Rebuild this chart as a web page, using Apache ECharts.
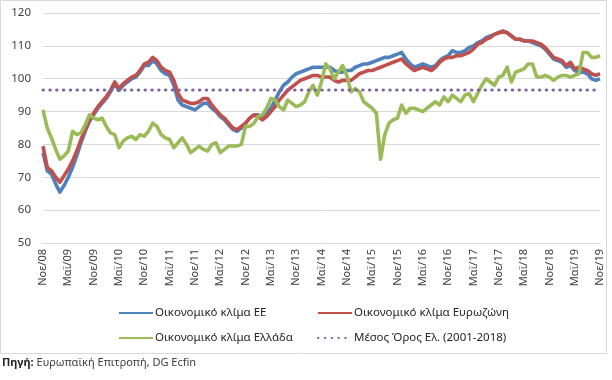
<!DOCTYPE html>
<html><head><meta charset="utf-8">
<script src="https://cdn.jsdelivr.net/npm/echarts@6/dist/echarts.min.js"></script>
<style>html,body{margin:0;padding:0;background:#fff}#c{width:612px;height:380px}</style>
</head><body><div id="c"></div>
<script>
// Categories: monthly, Nov 2008 - Nov 2019
var monthNames = ['Ιαν','Φεβ','Μαρ','Απρ','Μαϊ','Ιουν','Ιουλ','Αυγ','Σεπ','Οκτ','Νοε','Δεκ'];
var startYear = 2008, startMonth = 10, monthCount = 133;
var yTicks = [50, 60, 70, 80, 90, 100, 110, 120];

var seriesNames = ['Οικονομικό κλίμα ΕΕ', 'Οικονομικό κλίμα Ευρωζώνη', 'Οικονομικό κλίμα Ελλάδα', 'Μέσος Όρος Ελ. (2001-2018)'];

var euValues = [77.5,72,71,68,65.5,67.5,70,73,76.5,80.5,84,87,89,91,92.5,94,96,98.5,96.5,98,99,100,100.5,102,104,104,105.5,104.5,102.5,101.5,101,98,93.5,92,91.5,91,90.5,91.5,92.5,92.5,91,90,88.5,87.5,86,84.5,84,85,86.5,88,89,89,88.5,89.5,91,93.5,96,98,99,100.5,101.5,102,102.5,103,103.5,103.5,103.5,103.5,103.5,102.5,102,102,102.5,102.5,103.5,104,104.5,104.5,105,105.5,106,106.5,106.5,107,107.5,108,106,104.5,103.5,104,104.5,104,103.5,104,105.5,106.5,107,108.5,108,108,108.5,109.5,110,111,111.5,112.5,113,113.5,114,114.5,114,113,112,112,111.5,111.5,111,110.5,110,109,107.5,106,105.5,105,103.5,104,102.5,102,102,101.5,100,99.5,100];

var ezValues = [79.5,73,72,70,68.5,70.5,72.5,75,78,81.5,84.5,87.5,89.5,91.5,93,94.5,96.5,99,97,98.5,99.5,100.5,101,102.5,104.5,105,106.5,105.5,103.5,102.5,102,99.5,95.5,93.5,93,92.5,92.5,93,94,94,92,90.5,89,88,86.5,85,84.5,85.5,86.5,88,89,88.5,87.5,88.5,90,91.5,93.5,95,96.5,97.5,98.5,99.5,100,100.5,101,101,100.5,100.5,100.5,99.5,99,99.5,99.5,99.5,100.5,101.5,102,102.5,102.5,103,103.5,104,104.5,105,105.5,106,104.5,103.5,102.5,103,103.5,103,102.5,103.5,105,106,106.5,106.5,107,107,107.5,108,109,110.5,111,112,112.5,113.5,114,114.5,114,113,112,112,111.5,111.5,111.5,111,110.5,109.5,108,106.5,106,105.5,104,105,103,103.5,103,102.5,101.5,101,101.5];

var grValues = [90.5,85,82,78.5,75.5,76.5,78,84,83,83.5,86,89,88,87.5,88,85.5,83.5,83,79,81,82,82.5,81.5,83,82.5,84,86.5,85.5,83,82,81.5,79,80.5,82,80,77.5,78.5,79.5,78.5,78,80,80.5,77.5,78.5,79.5,79.5,79.5,80,85.5,85.5,86.5,88.5,89,91,94,93.5,91.5,90.5,93.5,92.5,91.5,92,93,96,98,95,99,104.5,103,100,102,104,101,96,97,96,93,92,91,89.5,75.5,83,86.5,87.5,88,92,89.5,91,91,90.5,90,91,92,93,92,94.5,93,95,94,93,95,95.5,93,95.5,98,100,99,98,100.5,101,103.5,99,102,102.5,103,104.5,104.5,100.5,100.5,101,100.5,99.5,100.5,101,101,100.5,101,101.5,108,108,106.5,106.5,107];

var greekAverage = 96.6;

var categories = [];
for (var k = 0; k < monthCount; k++) {
  var m = (startMonth + k) % 12;
  var y = startYear + Math.floor((startMonth + k) / 12);
  categories.push(monthNames[m] + '/' + String(y).slice(2));
}
var avgValues = categories.map(function(){ return greekAverage; });

var FONT = '"Noto Sans", sans-serif';
var chart = echarts.init(document.getElementById('c'), null, {renderer: 'canvas'});

function lineSeries(name, data, color, extra) {
  var s = {
    name: name, type: 'line', data: data, symbol: 'none', showSymbol: false, smooth: false,
    lineStyle: {color: color, width: 3.6, join: 'round'},
    itemStyle: {color: color},
    emphasis: {disabled: true}, animation: false
  };
  if (extra) Object.assign(s.lineStyle, extra);
  return s;
}

function legendAt(name, left, top) {
  return {
    data: [{name: name}], left: left, top: top, itemWidth: 34, itemHeight: 4, itemGap: 0,
    selectedMode: false,
    itemStyle: {opacity: 0},
    textStyle: {fontFamily: FONT, fontSize: 11.5, color: '#262626', padding: [0, 0, 0, -3]}
  };
}

chart.setOption({
  animation: false,
  grid: {left: 43, right: 12, top: 13, bottom: 137, containLabel: false},
  xAxis: {
    type: 'category', data: categories, boundaryGap: false,
    axisLine: {show: true, lineStyle: {color: '#d9d9d9'}},
    axisTick: {show: false},
    axisLabel: {interval: 5, rotate: 90, fontFamily: FONT, fontSize: 11, color: '#404040', margin: 6},
    splitLine: {show: false}
  },
  yAxis: {
    type: 'value', min: yTicks[0], max: yTicks[yTicks.length - 1], interval: 10,
    axisLine: {show: false}, axisTick: {show: false},
    axisLabel: {fontFamily: FONT, fontSize: 11.5, color: '#404040', margin: 12},
    splitLine: {lineStyle: {color: '#d9d9d9', width: 1}}
  },
  legend: [
    legendAt(seriesNames[0], 113, 302),
    legendAt(seriesNames[1], 312, 302),
    legendAt(seriesNames[2], 113, 327),
    legendAt(seriesNames[3], 312, 327)
  ],
  series: [
    lineSeries(seriesNames[0], euValues, '#4F81BD'),
    lineSeries(seriesNames[1], ezValues, '#C0504D'),
    lineSeries(seriesNames[2], grValues, '#9BBB59'),
    lineSeries(seriesNames[3], avgValues, '#8064A2', {width: 3, type: [0.5, 6.3], cap: 'round'})
  ],
  graphic: [
    {type: 'rect', shape: {x: 0.5, y: 0.5, width: 606, height: 353}, style: {fill: 'none', stroke: '#d9d9d9', lineWidth: 1}, silent: true, z: -1},
    {type: 'text', left: 2, top: 357, style: {
      text: '{b|Πηγή:} Ευρωπαϊκή Επιτροπή, DG Ecfin',
      rich: {b: {fontWeight: 'bold', fontFamily: FONT, fontSize: 11, fill: '#262626'}},
      fontFamily: FONT, fontSize: 11, fill: '#404040'
    }}
  ]
});
</script></body></html>
